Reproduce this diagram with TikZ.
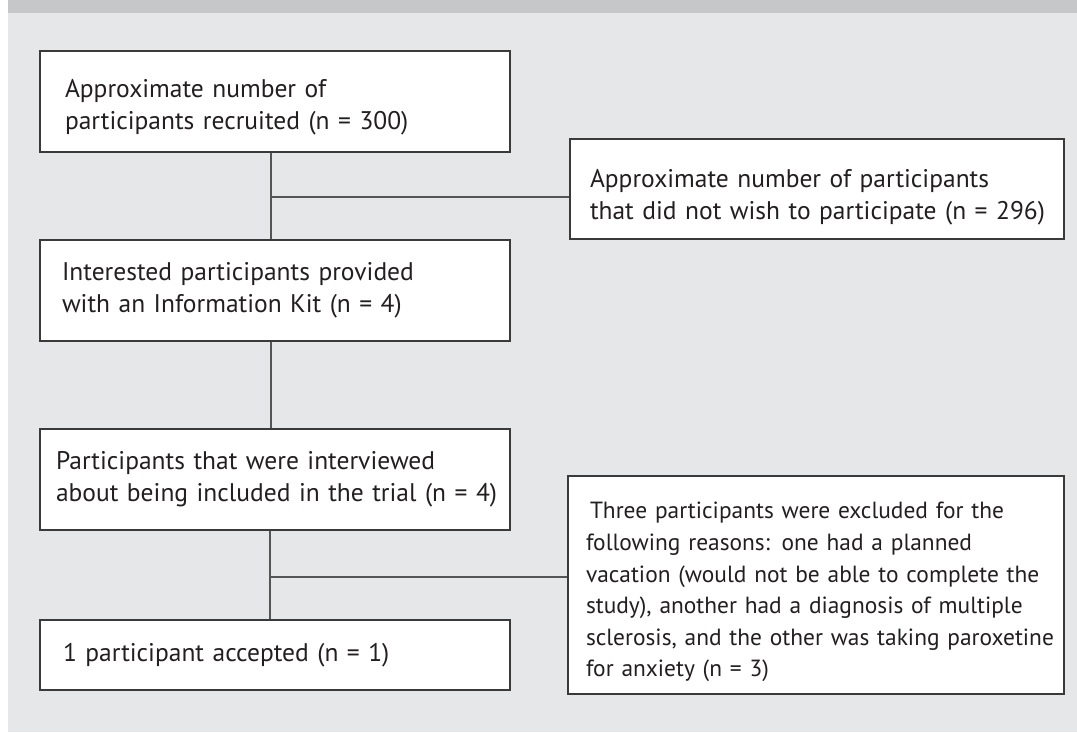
\documentclass[tikz,border=0pt]{standalone}
\usepackage{fontspec}
\setmainfont{PT Sans}[WordSpace=0.75]
\newfontfamily\tightfont{PT Sans}[WordSpace=0.6]
\definecolor{panel}{HTML}{E6E7E8}
\definecolor{band}{HTML}{C6C7C9}
\definecolor{boxline}{HTML}{3A3A3A}
\definecolor{linkc}{HTML}{555555}
\definecolor{txt}{HTML}{231F20}
\newcommand{\oneline}[1]{\mbox{#1}}
\begin{document}
\begin{tikzpicture}[x=1pt,y=1pt,
  box/.style={draw=boxline, line width=1.1pt, fill=white, rectangle, align=left,
    inner ysep=0pt, font=\fontsize{25.5}{32}\selectfont, text=txt, anchor=center},
  link/.style={draw=linkc, line width=1.1pt}]
\fill[white] (0,0) rectangle (1077,732);
\fill[panel] (8,0) rectangle (1077,719);
\fill[band] (8,719) rectangle (1077,732);
\useasboundingbox (0,0) rectangle (1077,732);

\node[box, minimum width=470pt, minimum height=101pt, inner xsep=25pt, text width=420pt] (b1) at (275,630.5)
  {\oneline{\rule{0pt}{30pt}Approximate number of}\\\oneline{participants recruited (n = 300)}};
\node[box, minimum width=494pt, minimum height=100pt, inner xsep=20pt, text width=454pt] (b2) at (817,543)
  {\oneline{\rule{0pt}{34pt}Approximate number of participants}\\\oneline{that did not wish to participate (n = 296)}};
\node[box, minimum width=470pt, minimum height=101pt, inner xsep=22pt, text width=426pt] (b3) at (275,441.5)
  {\oneline{Interested participants provided}\\\oneline{with an Information Kit (n = 4)}};
\node[box, minimum width=470pt, minimum height=101pt, inner xsep=16pt, text width=438pt] (b4) at (275,252.5)
  {\oneline{Participants that were interviewed}\\\oneline{about being included in the trial (n = 4)}};
\node[box, minimum width=470pt, minimum height=70pt, inner xsep=23pt, text width=424pt] (b5) at (275,77)
  {\oneline{1 participant accepted (n = 1)}};
\node[box, minimum width=496pt, minimum height=218pt, inner xsep=18pt, text width=460pt,
      font=\tightfont\fontsize{23.4}{31.6}\selectfont] (b6) at (816,147)
  {\oneline{\rule{0pt}{31pt}\hspace*{4pt}Three participants were excluded for the}\\\oneline{following reasons: one had a planned}\\\oneline{vacation (would not be able to complete the}\\\oneline{study), another had a diagnosis of multiple}\\\oneline{sclerosis, and the other was taking paroxetine}\\\oneline{for anxiety (n = 3)}};

\coordinate (j1) at (271,535);
\coordinate (j2) at (270,155);
\draw[link] (b1.south -| j1) -- (b3.north -| j1);
\draw[link] (j1) -- (j1 -| b2.west);
\draw[link] (b3.south -| j1) -- (b4.north -| j1);
\draw[link] (b4.south -| j2) -- (b5.north -| j2);
\draw[link] (j2) -- (j2 -| b6.west);
\end{tikzpicture}
\end{document}
